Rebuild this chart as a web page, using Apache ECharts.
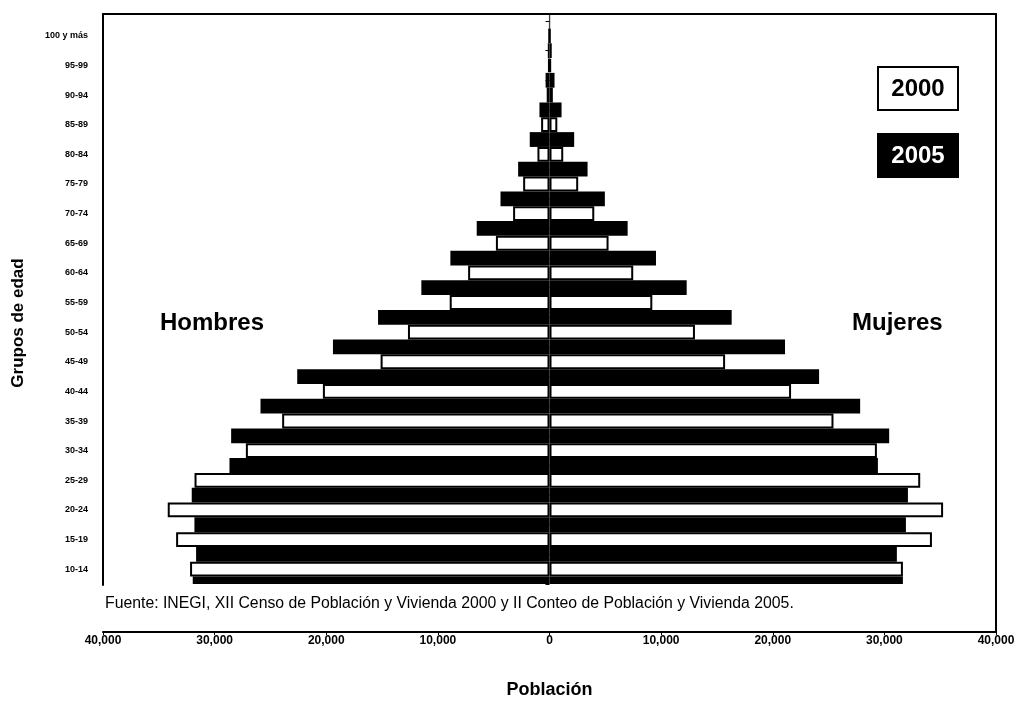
<!DOCTYPE html>
<html><head><meta charset="utf-8">
<script src="https://cdn.jsdelivr.net/npm/echarts@6/dist/echarts.min.js"></script>
<style>html,body{margin:0;padding:0;background:#fff}#c{width:1028px;height:704px}</style>
</head><body><div id="c"></div>
<script>
// Age groups (bottom to top)
const grupos = ['10-14','15-19','20-24','25-29','30-34','35-39','40-44','45-49','50-54','55-59','60-64','65-69','70-74','75-79','80-84','85-89','90-94','95-99','100 y más'];
// 2000 (white bars), centred on each age group
const hombres2000 = [32200,33450,34200,31800,27200,23950,20300,15130,12680,8940,7290,4800,3260,2360,1080,750,250,100,30];
const mujeres2000 = [31660,34260,35260,33210,29330,25440,21640,15730,13030,9210,7500,5290,4010,2570,1230,700,300,120,40];
// 2005 (black bars), drawn on the limits between age groups (first one is cut by the axis)
const limites2005 = ['5-9/10-14','10-14/15-19','15-19/20-24','20-24/25-29','25-29/30-34','30-34/35-39','35-39/40-44','40-44/45-49','45-49/50-54','50-54/55-59','55-59/60-64','60-64/65-69','65-69/70-74','70-74/75-79','75-79/80-84','80-84/85-89','85-89/90-94','90-94/95-99','95-99/100 y más','100 y más'];
const hombres2005 = [31960,31660,31810,32050,28670,28520,25890,22600,19400,15360,11480,8880,6520,4390,2810,1770,900,350,150,50];
const mujeres2005 = [31660,31120,31930,32110,29420,30430,27830,24150,21100,16320,12290,9540,7000,4960,3410,2210,1080,450,200,60];
const xMin = -40000, xMax = 40000, xStep = 10000;

const FONT = '"Liberation Sans", Arial, sans-serif';
const chart = echarts.init(document.getElementById('c'), null, {renderer: 'canvas'});
const fmt = v => Math.abs(v).toLocaleString('en-US');
const white = {color: '#fff', borderColor: '#000', borderWidth: 2};
const black = {color: '#000', borderColor: '#000', borderWidth: 0};
const L = 103, W = 893;
const top0 = 21, h0 = 563;
const band = h0 / grupos.length;
const line = {show: true, onZero: false, lineStyle: {color: '#000', width: 2}};
const off = {show: false};
const hiddenY = (gi, extra) => Object.assign({gridIndex: gi, type: 'value', min: 0, max: 1, axisLine: {show: false, onZero: false}, axisTick: off, axisLabel: off, splitLine: off}, extra || {});
const hiddenX = (gi, extra) => Object.assign({gridIndex: gi, type: 'value', min: xMin, max: xMax, interval: xStep, axisLine: {show: false, onZero: false}, axisTick: off, axisLabel: off, splitLine: off}, extra || {});

chart.setOption({
  animation: false,
  backgroundColor: '#fff',
  grid: [
    {left: L, top: top0, width: W, height: h0, show: false},            // 0: bars
    {left: L, top: 14, width: W, height: 619, show: false},             // 1: x axis, right border
    {left: L, top: 14, width: W, height: 571, show: false},             // 2: left and top border
    {left: L, top: top0 + h0 - band / 4, width: W, height: band / 4, show: false} // 3: first 2005 bar, cut by the axis
  ],
  xAxis: [
    hiddenX(0),
    {gridIndex: 1, type: 'value', min: xMin, max: xMax, interval: xStep,
      axisLine: {show: true, onZero: false, lineStyle: {color: '#000', width: 2}},
      axisTick: {show: true, length: 3, lineStyle: {color: '#000'}},
      splitLine: off,
      axisLabel: {formatter: fmt, color: '#000', fontFamily: FONT, fontSize: 12, fontWeight: 'bold', margin: 3},
      name: 'Población', nameLocation: 'middle', nameGap: 49,
      nameTextStyle: {color: '#000', fontFamily: FONT, fontSize: 18, fontWeight: 'bold'}},
    hiddenX(2, {position: 'top', axisLine: line}),
    hiddenX(3)
  ],
  yAxis: [
    {gridIndex: 0, type: 'category', data: grupos, boundaryGap: true,
      axisLine: off,
      axisTick: {show: true, length: 4, lineStyle: {color: '#000'}},
      axisLabel: {color: '#000', fontFamily: FONT, fontSize: 9, fontWeight: 'bold', margin: 15}},
    {gridIndex: 0, type: 'category', data: limites2005, boundaryGap: false, show: false},
    hiddenY(1, {name: 'Grupos de edad', nameLocation: 'middle', nameGap: 76,
      nameTextStyle: {color: '#000', fontFamily: FONT, fontSize: 17, fontWeight: 'bold'}}),
    hiddenY(1, {position: 'right', axisLine: line}),
    hiddenY(2, {position: 'left', axisLine: line}),
    {gridIndex: 3, type: 'category', data: limites2005.slice(0, 1), boundaryGap: true, show: false}
  ],
  series: [
    {name: '2005 Hombres', type: 'bar', xAxisIndex: 0, yAxisIndex: 1, stack: 'b', barWidth: '50%',
      itemStyle: black, data: hombres2005.map((v, i) => i === 0 ? '-' : -v)},
    {name: '2005 Mujeres', type: 'bar', xAxisIndex: 0, yAxisIndex: 1, stack: 'b', barWidth: '50%',
      itemStyle: black, data: mujeres2005.map((v, i) => i === 0 ? '-' : v)},
    {name: '2005 Hombres (5-9/10-14)', type: 'bar', xAxisIndex: 3, yAxisIndex: 5, stack: 'c', barWidth: '100%',
      itemStyle: black, data: hombres2005.slice(0, 1).map(v => -v)},
    {name: '2005 Mujeres (5-9/10-14)', type: 'bar', xAxisIndex: 3, yAxisIndex: 5, stack: 'c', barWidth: '100%',
      itemStyle: black, data: mujeres2005.slice(0, 1)},
    {name: '2000 Hombres', type: 'bar', xAxisIndex: 0, yAxisIndex: 0, stack: 'a', barWidth: '50%',
      itemStyle: white, data: hombres2000.map(v => -v)},
    {name: '2000 Mujeres', type: 'bar', xAxisIndex: 0, yAxisIndex: 0, stack: 'a', barWidth: '50%',
      itemStyle: white, data: mujeres2000}
  ],
  graphic: [
    {type: 'text', x: 160, y: 323, style: {text: 'Hombres', font: 'bold 24px ' + FONT, fill: '#000', textAlign: 'left', textVerticalAlign: 'middle'}},
    {type: 'text', x: 852, y: 323, style: {text: 'Mujeres', font: 'bold 24px ' + FONT, fill: '#000', textAlign: 'left', textVerticalAlign: 'middle'}},
    {type: 'rect', shape: {x: 878, y: 67, width: 80, height: 43}, style: {fill: '#fff', stroke: '#000', lineWidth: 2}},
    {type: 'text', x: 918, y: 89, style: {text: '2000', font: 'bold 24px ' + FONT, fill: '#000', textAlign: 'center', textVerticalAlign: 'middle'}},
    {type: 'rect', shape: {x: 878, y: 134, width: 80, height: 43}, style: {fill: '#000', stroke: '#000', lineWidth: 2}},
    {type: 'text', x: 918, y: 156, style: {text: '2005', font: 'bold 24px ' + FONT, fill: '#fff', textAlign: 'center', textVerticalAlign: 'middle'}},
    {type: 'text', x: 105, y: 604, style: {text: 'Fuente: INEGI, XII Censo de Población y Vivienda 2000 y II Conteo de Población y Vivienda 2005.', font: '15.8px ' + FONT, fill: '#000', textAlign: 'left', textVerticalAlign: 'middle'}}
  ]
});
</script></body></html>
